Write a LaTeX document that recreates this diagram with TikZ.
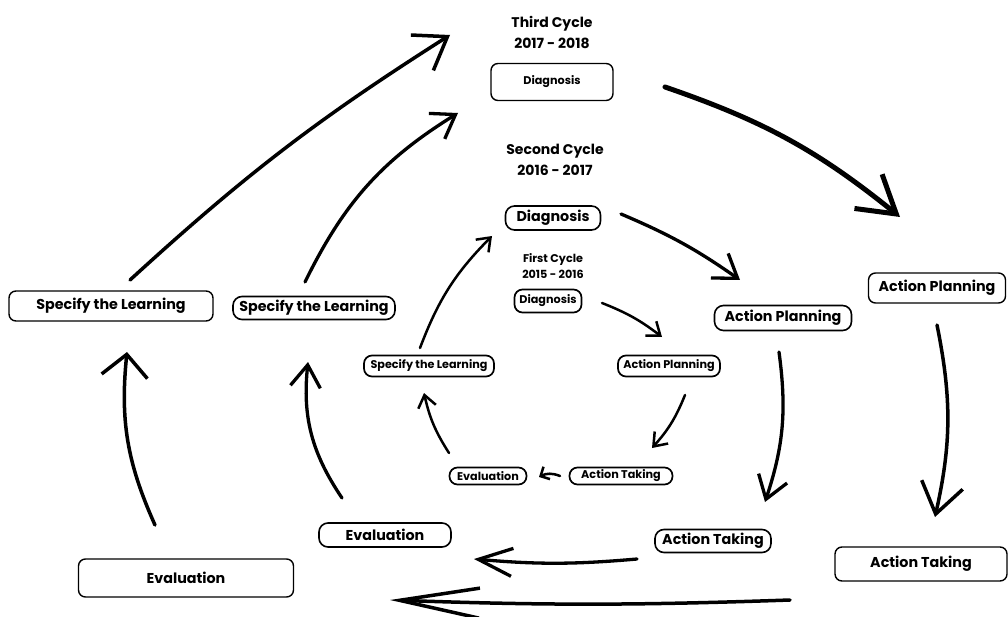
\documentclass[tikz,border=0pt]{standalone}
\usepackage{fontspec}
\setmainfont{Poppins}
\usetikzlibrary{arrows.meta}
\newcommand{\bigfont}{\bfseries\fontsize{14.3}{16}\selectfont}
\newcommand{\smallfont}{\bfseries\fontsize{11.2}{13}\selectfont}
\newcommand{\titlefont}{\bfseries\fontsize{14}{21}\selectfont}
\newcommand{\firstfont}{\bfseries\fontsize{11.2}{16}\selectfont}
\tikzset{
  big box/.style={draw, rounded corners=7pt, line width=1.4pt, inner sep=0pt, font=\bigfont},
  mid box/.style={draw, rounded corners=9pt, line width=1.6pt, inner sep=0pt, font=\bigfont},
  small box/.style={draw, rounded corners=8pt, line width=1.7pt, inner sep=0pt, font=\smallfont},
  cycle title/.style={align=center, inner sep=0pt},
  outer arrow/.style={line width=3.5pt, line cap=round, -{Straight Barb[length=30pt,width=42pt]}},
  mid arrow/.style={line width=3.3pt, line cap=round, -{Straight Barb[length=22pt,width=30pt]}},
  inner arrow/.style={line width=2.5pt, line cap=round, -{Straight Barb[length=12pt,width=18pt]}}
}
\begin{document}
\begin{tikzpicture}[x=1pt,y=-1pt]
\useasboundingbox (0,0) rectangle (1008,617);

  % third cycle
  \node[cycle title, font=\titlefont] (t3) at (552,32) {Third Cycle\\2017 - 2018};
  \node[big box, minimum width=122pt, minimum height=37pt, font=\smallfont] (diag3) at (552,82) {Diagnosis};
  \node[big box, minimum width=137pt, minimum height=30pt] (plan3) at (937,288) {Action Planning};
  \node[big box, minimum width=172pt, minimum height=34pt] (take3) at (921,564) {Action Taking};
  \node[big box, minimum width=215pt, minimum height=38pt] (eval3) at (186,578) {Evaluation};
  \node[big box, minimum width=204pt, minimum height=30pt] (spec3) at (111,306) {Specify the Learning};

  % second cycle
  \node[cycle title, font=\titlefont] (t2) at (555,160) {Second Cycle\\2016 - 2017};
  \node[mid box, minimum width=95pt, minimum height=24pt] (diag2) at (553,218) {Diagnosis};
  \node[mid box, minimum width=137pt, minimum height=25pt] (plan2) at (783,318) {Action Planning};
  \node[mid box, minimum width=116pt, minimum height=23pt] (take2) at (713,541) {Action Taking};
  \node[mid box, minimum width=132pt, minimum height=24pt] (eval2) at (385,535) {Evaluation};
  \node[mid box, minimum width=162pt, minimum height=23pt] (spec2) at (314,308) {Specify the Learning};

  % first cycle
  \node[cycle title, font=\firstfont] (t1) at (553,266) {First Cycle\\2015 - 2016};
  \node[small box, minimum width=67pt, minimum height=23pt] (diag1) at (548,301) {Diagnosis};
  \node[small box, minimum width=102pt, minimum height=21pt] (plan1) at (669,366) {Action Planning};
  \node[small box, minimum width=103pt, minimum height=17pt] (take1) at (621,476) {Action Taking};
  \node[small box, minimum width=77pt, minimum height=17pt] (eval1) at (488,476) {Evaluation};
  \node[small box, minimum width=130pt, minimum height=21pt] (spec1) at (429,366) {Specify the Learning};

  % arrow ends
  \coordinate (a3) at (665,87);   \coordinate (b3) at (900,217);
  \coordinate (c3) at (937,325);  \coordinate (d3) at (935,517);
  \coordinate (e3) at (790,600);  \coordinate (f3) at (390,600);
  \coordinate (g3) at (155,525);  \coordinate (h3) at (127,352);
  \coordinate (i3) at (130,280);  \coordinate (j3) at (450,35);

  \coordinate (a2) at (621,214);  \coordinate (b2) at (740,280);
  \coordinate (c2) at (779,352);  \coordinate (d2) at (765,502);
  \coordinate (e2) at (637,559);  \coordinate (f2) at (474,559);
  \coordinate (g2) at (342,498);  \coordinate (h2) at (308,362);
  \coordinate (i2) at (305,282);  \coordinate (j2) at (458,113);

  \coordinate (a1) at (602,303);  \coordinate (b1) at (662,337);
  \coordinate (c1) at (685,395);  \coordinate (d1) at (652,448);
  \coordinate (e1) at (560,476);  \coordinate (f1) at (539,477);
  \coordinate (g1) at (449,453);  \coordinate (h1) at (424,393);
  \coordinate (i1) at (420,348);  \coordinate (j1) at (492,236);

  \draw[outer arrow, line width=5pt, -{Straight Barb[length=36pt,width=44pt]}] (a3) to[bend left=10] (b3);
  \draw[outer arrow] (c3) to[bend left=12] (d3);
  \draw[outer arrow, -{Straight Barb[length=80pt,width=30pt]}] (e3) to[bend left=2] (f3);
  \draw[outer arrow, -{Straight Barb[length=22pt,width=46pt]}] (g3) to[bend left=15] (h3);
  \draw[outer arrow] (i3) to[bend left=5] (j3);

  \draw[mid arrow] (a2) to[bend left=6] (b2);
  \draw[mid arrow] (c2) to[bend left=13] (d2);
  \draw[mid arrow, -{Straight Barb[length=34pt,width=28pt]}] (e2) to[bend left=5] (f2);
  \draw[mid arrow] (g2) to[bend left=20] (h2);
  \draw[mid arrow] (i2) to[bend left=16] (j2);

  \draw[inner arrow] (a1) to[bend left=8] (b1);
  \draw[inner arrow] (c1) to[bend left=10] (d1);
  \draw[inner arrow, -{Straight Barb[length=7pt,width=14pt]}] (e1) to[bend right=25] (f1);
  \draw[inner arrow] (g1) to[bend left=10] (h1);
  \draw[inner arrow] (i1) to[bend left=12] (j1);
\end{tikzpicture}
\end{document}
